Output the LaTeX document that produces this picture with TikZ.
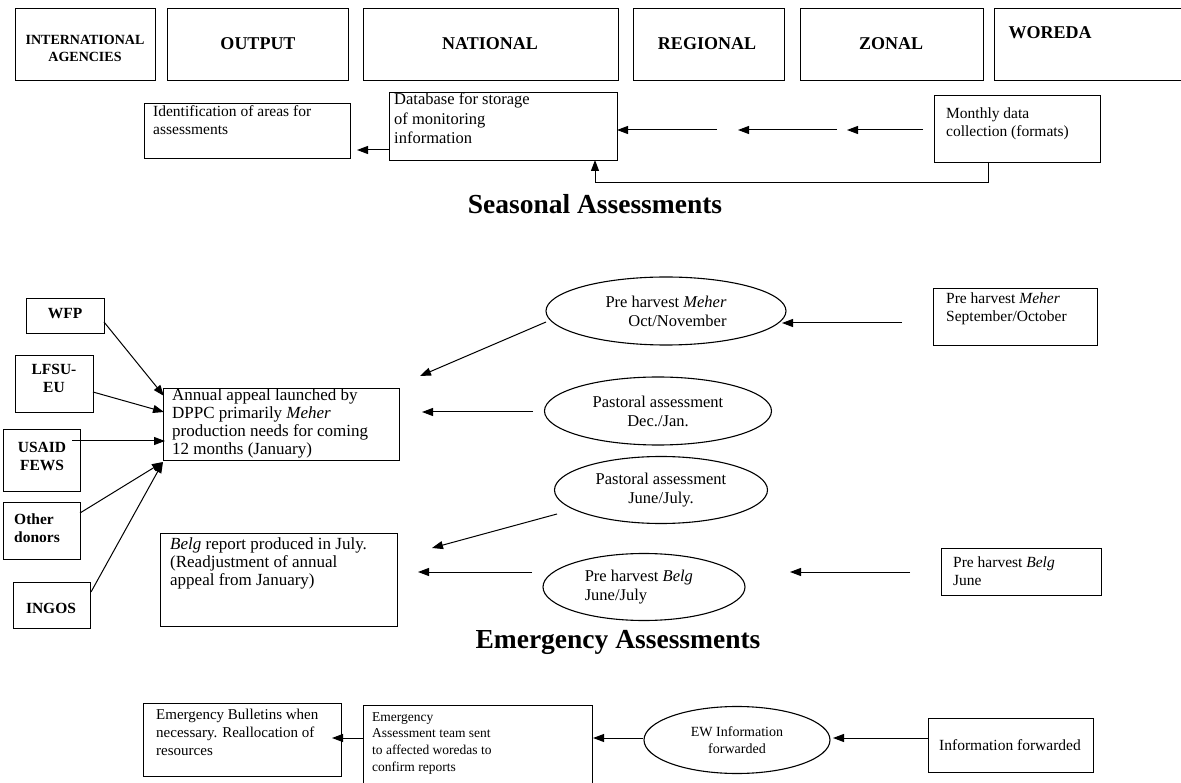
\documentclass[tikz,border=0pt]{standalone}
\usepackage{fontspec}
\setmainfont{Liberation Serif}
\usetikzlibrary{arrows.meta,shapes.geometric}
\begin{document}
\begin{tikzpicture}[x=1pt,y=-1pt,
  frame/.style={draw, line width=1.1pt, anchor=north west, inner sep=0pt},
  oval/.style={draw, ellipse, line width=1.1pt, inner sep=0pt,
    font=\fontsize{16.5}{19}\selectfont},
  body/.style={anchor=north west, align=left, inner sep=0pt,
    font=\fontsize{15.5}{18}\selectfont},
  large/.style={anchor=north west, align=left, inner sep=0pt,
    font=\fontsize{17}{18}\selectfont},
  small/.style={anchor=north west, align=left, inner sep=0pt,
    font=\fontsize{13.5}{16.7}\selectfont},
  head/.style={inner sep=0pt, align=center, font=\fontsize{18}{20}\selectfont\bfseries},
  donor/.style={inner sep=0pt, align=center, font=\fontsize{15.5}{18}\selectfont\bfseries},
  title/.style={inner sep=0pt, font=\fontsize{27.5}{30}\selectfont\bfseries},
  flow/.style={line width=1pt, -{Triangle[length=11pt,width=8pt]}}
]
\useasboundingbox (0,0) rectangle (1181,783);

% ---------- level headers ----------
\node[frame, minimum width=140pt, minimum height=72pt] (hIntl) at (15,8) {};
\node[frame, minimum width=181pt, minimum height=72pt] (hOut)  at (167,8) {};
\node[frame, minimum width=255pt, minimum height=72pt] (hNat)  at (363,8) {};
\node[frame, minimum width=151pt, minimum height=72pt] (hReg)  at (633,8) {};
\node[frame, minimum width=183pt, minimum height=72pt] (hZon)  at (800,8) {};
\node[frame, minimum width=195pt, minimum height=72pt] (hWor)  at (994,8) {};
\node[head, font=\fontsize{14}{17}\selectfont\bfseries] (tIntl) at (85,48) {INTERNATIONAL\\AGENCIES};
\node[head] (tOut) at (258,44) {OUTPUT};
\node[head] (tNat) at (490,44) {NATIONAL};
\node[head] (tReg) at (707,44) {REGIONAL};
\node[head] (tZon) at (891,44) {ZONAL};
\node[head] (tWor) at (1050,33) {WOREDA};

% ---------- monitoring row ----------
\node[frame, minimum width=206pt, minimum height=55pt] (idBox) at (144,103) {};
\node[body] (idTxt) at (153,105) {Identification of areas for\\assessments};
\node[frame, minimum width=228pt, minimum height=68pt] (dbBox) at (389,92) {};
\node[body, font=\fontsize{16.5}{19.5}\selectfont] (dbTxt) at (394,93) {Database for storage\\of monitoring\\information};
\node[frame, minimum width=166pt, minimum height=67pt] (moBox) at (934,95) {};
\node[body] (moTxt) at (946,108) {Monthly data\\collection (formats)};

\coordinate (m1a) at (923,130); \coordinate (m1b) at (847,130);
\coordinate (m2a) at (837,130); \coordinate (m2b) at (738,130);
\coordinate (m3a) at (717,130); \coordinate (m3b) at (617,130);
\draw[flow] (m1a) -- (m1b);
\draw[flow] (m2a) -- (m2b);
\draw[flow] (m3a) -- (m3b);
\coordinate (dbOut) at (389,150); \coordinate (idIn) at (357,150);
\draw[flow] (dbOut) -- (idIn);
\coordinate (fbA) at (988,162); \coordinate (fbB) at (595,160);
\draw[flow] (fbA) -- (988,183) -- (595,183) -- (fbB);

\node[title] (tSeas) at (595,204) {Seasonal Assessments};

% ---------- seasonal assessments ----------
\node[frame, minimum width=78pt, minimum height=35pt] (wfp)   at (26,298) {};
\node[frame, minimum width=78pt, minimum height=57pt] (lfsu)  at (15,355) {};
\node[frame, minimum width=77pt, minimum height=62pt] (usaid) at (3,429) {};
\node[frame, minimum width=77pt, minimum height=57pt] (other) at (3,502) {};
\node[frame, minimum width=77pt, minimum height=46pt] (ingos) at (13,582) {};
\node[donor] (tWfp)   at (65,314)  {WFP};
\node[donor] (tLfsu)  at (54,378)  {LFSU-\\EU};
\node[donor] (tUsaid) at (42,456)  {USAID\\FEWS};
\node[donor, align=left, anchor=west] (tOther) at (14,528) {Other\\donors};
\node[donor] (tIngos) at (51,608)  {INGOS};

\node[frame, minimum width=236pt, minimum height=72pt] (annual) at (163,388) {};
\node[large] (annTxt) at (172,389) {Annual appeal launched by\\DPPC primarily \textit{Meher}\\production needs for coming\\12 months (January)};
\node[frame, minimum width=237pt, minimum height=93pt] (belg) at (160,533) {};
\node[large] (belgTxt) at (170,538) {\textit{Belg} report produced in July.\\(Readjustment of annual\\appeal from January)};

\coordinate (aIn1) at (164,396); \coordinate (aIn2) at (164,412);
\coordinate (aIn3) at (165,441); \coordinate (aIn4) at (163,462);
\draw[flow] (104,322) -- (aIn1);
\draw[flow] (93,392) -- (aIn2);
\draw[flow] (72,441) -- (aIn3);
\draw[flow] (80,513) -- (aIn4);
\draw[flow] (91,592) -- (aIn4);

\node[oval, minimum width=240pt, minimum height=68pt, align=right] (eMeher) at (666,311) {Pre harvest \textit{Meher}\\Oct/November};
\node[oval, minimum width=227pt, minimum height=68pt, align=center] (ePastA) at (658,411) {Pastoral assessment\\Dec./Jan.};
\node[oval, minimum width=213pt, minimum height=67pt, align=center] (ePastB) at (661,490) {Pastoral assessment\\June/July.};
\node[oval, minimum width=202pt, minimum height=67pt, align=left] (eBelg) at (644,587) {Pre harvest \textit{Belg}\\June/July\hspace*{3.4em}};

\node[frame, minimum width=164pt, minimum height=57pt] (pmBox) at (933,288) {};
\node[body] (pmTxt) at (946,293) {Pre harvest \textit{Meher}\\September/October};
\node[frame, minimum width=160pt, minimum height=47pt] (pbBox) at (941,548) {};
\node[body] (pbTxt) at (953,557) {Pre harvest \textit{Belg}\\June};

\draw[flow] (902,323) -- (782,323);
\draw[flow] (546,322) -- (420,376);
\draw[flow] (533,412) -- (422,412);
\draw[flow] (557,514) -- (432,548);
\draw[flow] (532,572) -- (418,572);
\draw[flow] (910,572) -- (790,572);

\node[title] (tEmer) at (618,642) {Emergency Assessments};

% ---------- emergency assessments ----------
\node[frame, minimum width=198pt, minimum height=73pt] (bulBox) at (143,703) {};
\node[body, font=\fontsize{15}{18}\selectfont] (bulTxt) at (156,709) {Emergency Bulletins when\\necessary. Reallocation of\\resources};
\node[frame, minimum width=229pt, minimum height=95pt] (eatBox) at (363,705) {};
\node[small] (eatTxt) at (372,712) {Emergency\\Assessment team sent\\to affected woredas to\\confirm reports};
\node[oval, minimum width=186pt, minimum height=67pt, align=center,
  font=\fontsize{14}{17}\selectfont] (eEW) at (737,740) {EW Information\\forwarded};
\node[frame, minimum width=165pt, minimum height=54pt] (infoBox) at (928,718) {};
\node[body] (infoTxt) at (1010,745) [anchor=center] {Information forwarded};

\draw[flow] (infoBox.west |- 0,738) -- (833,738);
\draw[flow] (eEW.west |- 0,738) -- (eatBox.east |- 0,738);
\draw[flow] (eatBox.west |- 0,738) -- (332,738);
\end{tikzpicture}
\end{document}
